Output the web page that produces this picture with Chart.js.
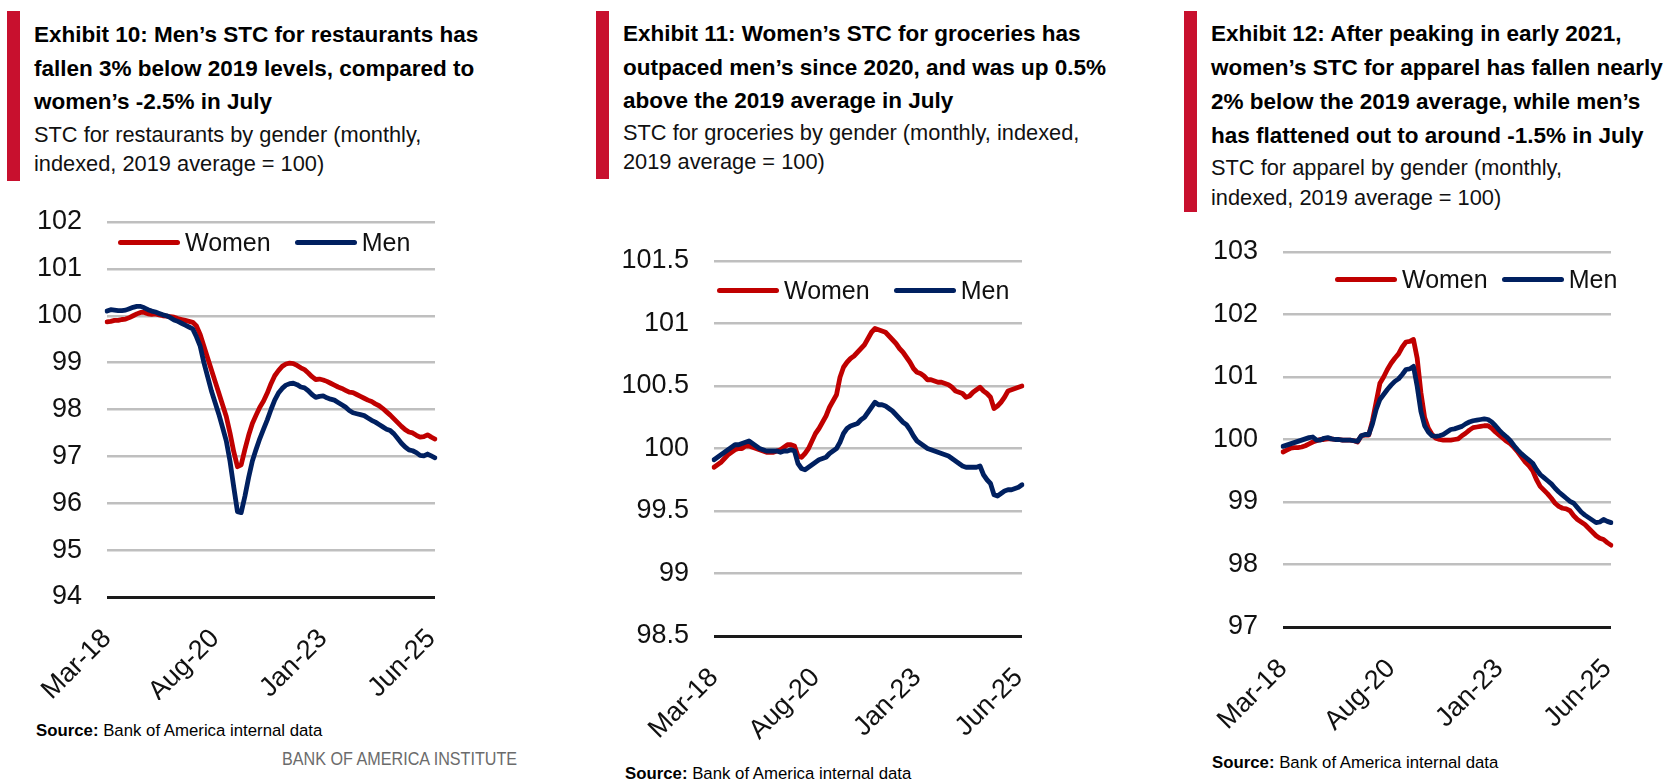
<!DOCTYPE html>
<html>
<head>
<meta charset="utf-8">
<script src="https://cdn.jsdelivr.net/npm/chart.js@4.4.1/dist/chart.umd.min.js"></script>
<style>
  html, body { margin: 0; padding: 0; background: #fff; }
  body { width: 1666px; height: 782px; position: relative; overflow: hidden;
         font-family: "Liberation Sans", sans-serif; color: #000; }
  .bar { position: absolute; width: 13px; background: #C8102E; }
  .title { position: absolute; font-weight: bold; font-size: 22.5px; line-height: 33.5px; white-space: nowrap; }
  .sub { position: absolute; font-size: 21.8px; line-height: 29px; white-space: nowrap; color: #111; }
  .box { position: absolute; }
  .legend { position: absolute; display: flex; align-items: center; font-size: 25px; white-space: nowrap; color: #111; }
  .legend .item { display: flex; align-items: center; margin-right: 24px; }
  .legend .item:last-child { margin-right: 0; }
  .legend .swatch { width: 62px; height: 5px; border-radius: 3px; margin-right: 5px; }
  .source { position: absolute; font-size: 16.8px; line-height: 22px; white-space: nowrap; }
  .brand { position: absolute; font-size: 19px; line-height: 22px; color: #6b6b6b; white-space: nowrap;
           transform: scaleX(0.85); transform-origin: left center; }
</style>
</head>
<body>

<div class="bar" style="left:7px; top:11px; height:170px;"></div>
<div class="title" style="left:34px; top:18px;">Exhibit 10: Men’s STC for restaurants has<br>fallen 3% below 2019 levels, compared to<br>women’s -2.5% in July</div>
<div class="sub" style="left:34px; top:120px;">STC for restaurants by gender (monthly,<br>indexed, 2019 average = 100)</div>

<div class="bar" style="left:596px; top:11px; height:168px;"></div>
<div class="title" style="left:623px; top:17px;">Exhibit 11: Women’s STC for groceries has<br>outpaced men’s since 2020, and was up 0.5%<br>above the 2019 average in July</div>
<div class="sub" style="left:623px; top:118px;">STC for groceries by gender (monthly, indexed,<br>2019 average = 100)</div>

<div class="bar" style="left:1184px; top:11px; height:201px;"></div>
<div class="title" style="left:1211px; top:17px; line-height:34px;">Exhibit 12: After peaking in early 2021,<br>women’s STC for apparel has fallen nearly<br>2% below the 2019 average, while men’s<br>has flattened out to around -1.5% in July</div>
<div class="sub" style="left:1211px; top:153px; line-height:30px;">STC for apparel by gender (monthly,<br>indexed, 2019 average = 100)</div>

<div class="box" id="box1"><canvas id="c1"></canvas></div>
<div class="box" id="box2"><canvas id="c2"></canvas></div>
<div class="box" id="box3"><canvas id="c3"></canvas></div>

<div class="legend" id="lg1" style="left:118px; top:228px;"></div>
<div class="legend" id="lg2" style="left:717px; top:276px;"></div>
<div class="legend" id="lg3" style="left:1335px; top:265px;"></div>

<div class="source" style="left:36px; top:720px;"><b>Source:</b> Bank of America internal data</div>
<div class="brand" style="left:282px; top:748px;">BANK OF AMERICA INSTITUTE</div>
<div class="source" style="left:625px; top:763px;"><b>Source:</b> Bank of America internal data</div>
<div class="source" style="left:1212px; top:752px;"><b>Source:</b> Bank of America internal data</div>

<script>
// months Mar-18 .. Jul-25
const months = [
  'Mar-18','Apr-18','May-18','Jun-18','Jul-18','Aug-18','Sep-18','Oct-18','Nov-18','Dec-18',
  'Jan-19','Feb-19','Mar-19','Apr-19','May-19','Jun-19','Jul-19','Aug-19','Sep-19','Oct-19','Nov-19','Dec-19',
  'Jan-20','Feb-20','Mar-20','Apr-20','May-20','Jun-20','Jul-20','Aug-20','Sep-20','Oct-20','Nov-20','Dec-20',
  'Jan-21','Feb-21','Mar-21','Apr-21','May-21','Jun-21','Jul-21','Aug-21','Sep-21','Oct-21','Nov-21','Dec-21',
  'Jan-22','Feb-22','Mar-22','Apr-22','May-22','Jun-22','Jul-22','Aug-22','Sep-22','Oct-22','Nov-22','Dec-22',
  'Jan-23','Feb-23','Mar-23','Apr-23','May-23','Jun-23','Jul-23','Aug-23','Sep-23','Oct-23','Nov-23','Dec-23',
  'Jan-24','Feb-24','Mar-24','Apr-24','May-24','Jun-24','Jul-24','Aug-24','Sep-24','Oct-24','Nov-24','Dec-24',
  'Jan-25','Feb-25','Mar-25','Apr-25','May-25','Jun-25','Jul-25'
];
const xTickLabels = ['Mar-18', 'Aug-20', 'Jan-23', 'Jun-25'];
const seriesNames = ['Women', 'Men'];

// Exhibit 10: restaurants
const restWomen = [
  99.87, 99.88, 99.90, 99.90, 99.92, 99.93, 99.96, 100.00, 100.04, 100.07,
  100.07, 100.04, 100.03, 100.04, 100.02, 100.00, 99.99, 99.98, 99.97, 99.94,
  99.92, 99.90, 99.88, 99.86, 99.78, 99.60, 99.35, 99.10, 98.85, 98.60,
  98.35, 98.10, 97.85, 97.50, 97.10, 96.78, 96.82, 97.15, 97.45, 97.70,
  97.88, 98.05, 98.18, 98.35, 98.55, 98.72, 98.83, 98.92, 98.97, 98.99,
  98.98, 98.94, 98.89, 98.85, 98.78, 98.70, 98.64, 98.65, 98.63, 98.60,
  98.56, 98.52, 98.48, 98.45, 98.41, 98.37, 98.36, 98.32, 98.28, 98.24,
  98.20, 98.17, 98.12, 98.08, 98.02, 97.95, 97.88, 97.80, 97.72, 97.64,
  97.57, 97.52, 97.50, 97.45, 97.41, 97.42, 97.46, 97.41, 97.37
];
const restMen = [
  100.10, 100.13, 100.12, 100.11, 100.11, 100.12, 100.15, 100.18, 100.20, 100.20,
  100.17, 100.13, 100.10, 100.08, 100.05, 100.02, 100.00, 99.96, 99.91, 99.88,
  99.84, 99.80, 99.76, 99.72, 99.55, 99.35, 99.00, 98.70, 98.40, 98.15,
  97.90, 97.62, 97.33, 96.90, 96.35, 95.82, 95.80, 96.15, 96.55, 96.90,
  97.15, 97.38, 97.58, 97.78, 98.00, 98.20, 98.35, 98.45, 98.52, 98.55,
  98.56, 98.53, 98.48, 98.46, 98.40, 98.32, 98.26, 98.28, 98.29, 98.25,
  98.22, 98.20, 98.15, 98.10, 98.05, 97.98, 97.93, 97.91, 97.89, 97.87,
  97.82, 97.77, 97.73, 97.68, 97.63, 97.58, 97.55, 97.48, 97.38, 97.28,
  97.20, 97.14, 97.12, 97.08, 97.02, 97.01, 97.05, 97.01, 96.97
];
const restTicks = [94, 95, 96, 97, 98, 99, 100, 101, 102];
const restTickLabels = ['94', '95', '96', '97', '98', '99', '100', '101', '102'];

// Exhibit 11: groceries
const grocWomen = [
  99.85, 99.87, 99.89, 99.92, 99.95, 99.97, 99.99, 100.00, 100.00, 100.02,
  100.02, 100.01, 100.00, 99.99, 99.98, 99.97, 99.97, 99.97, 99.98, 99.99,
  100.01, 100.03, 100.03, 100.02, 99.94, 99.93, 99.96, 100.00, 100.06, 100.12,
  100.16, 100.21, 100.26, 100.33, 100.38, 100.43, 100.57, 100.65, 100.69, 100.72,
  100.74, 100.77, 100.80, 100.83, 100.88, 100.93, 100.96, 100.95, 100.94, 100.93,
  100.90, 100.87, 100.84, 100.80, 100.77, 100.73, 100.69, 100.64, 100.61, 100.60,
  100.58, 100.55, 100.55, 100.54, 100.53, 100.53, 100.52, 100.51, 100.49, 100.46,
  100.45, 100.44, 100.41, 100.42, 100.45, 100.47, 100.49, 100.46, 100.44, 100.41,
  100.32, 100.34, 100.37, 100.41, 100.46, 100.47, 100.48, 100.49, 100.50
];
const grocMen = [
  99.91, 99.93, 99.95, 99.97, 99.99, 100.01, 100.03, 100.03, 100.04, 100.05,
  100.06, 100.04, 100.02, 100.00, 99.99, 99.98, 99.98, 99.98, 99.98, 99.97,
  99.98, 99.98, 99.99, 99.98, 99.88, 99.84, 99.83, 99.85, 99.87, 99.89,
  99.91, 99.92, 99.93, 99.96, 99.98, 100.00, 100.05, 100.12, 100.16, 100.18,
  100.19, 100.20, 100.23, 100.25, 100.29, 100.33, 100.37, 100.35, 100.35, 100.34,
  100.32, 100.30, 100.27, 100.24, 100.21, 100.19, 100.15, 100.10, 100.06, 100.04,
  100.02, 100.00, 99.99, 99.98, 99.97, 99.96, 99.95, 99.94, 99.92, 99.90,
  99.88, 99.86, 99.85, 99.85, 99.85, 99.85, 99.86, 99.79, 99.75, 99.72,
  99.63, 99.62, 99.64, 99.66, 99.67, 99.67, 99.68, 99.69, 99.71
];
const grocTicks = [98.5, 99, 99.5, 100, 100.5, 101, 101.5];
const grocTickLabels = ['98.5', '99', '99.5', '100', '100.5', '101', '101.5'];

// Exhibit 12: apparel
const appWomen = [
  99.80, 99.83, 99.86, 99.87, 99.87, 99.88, 99.90, 99.93, 99.96, 99.98,
  100.00, 100.00, 100.01, 100.01, 100.00, 100.00, 99.99, 99.99, 99.99, 99.98,
  99.96, 100.06, 100.07, 100.07, 100.30, 100.60, 100.90, 101.00, 101.12, 101.22,
  101.30, 101.37, 101.48, 101.56, 101.57, 101.60, 101.30, 100.75, 100.35, 100.18,
  100.08, 100.02, 100.00, 99.99, 99.99, 99.99, 100.00, 100.01, 100.06, 100.10,
  100.15, 100.19, 100.20, 100.21, 100.22, 100.22, 100.18, 100.12, 100.07, 100.02,
  99.97, 99.93, 99.87, 99.80, 99.72, 99.64, 99.58, 99.50, 99.36, 99.25,
  99.19, 99.13, 99.06, 98.98, 98.93, 98.90, 98.89, 98.86, 98.78, 98.72,
  98.68, 98.64, 98.58, 98.52, 98.46, 98.42, 98.40, 98.35, 98.31
];
const appMen = [
  99.89, 99.91, 99.93, 99.95, 99.97, 99.99, 100.01, 100.03, 100.04, 99.99,
  99.99, 100.02, 100.03, 100.01, 100.00, 100.00, 99.99, 99.99, 99.99, 99.98,
  99.97, 100.06, 100.08, 100.08, 100.25, 100.48, 100.64, 100.72, 100.80, 100.87,
  100.93, 100.97, 101.04, 101.12, 101.13, 101.17, 100.85, 100.45, 100.22, 100.12,
  100.06, 100.05, 100.06, 100.08, 100.12, 100.16, 100.17, 100.19, 100.21, 100.25,
  100.28, 100.30, 100.31, 100.32, 100.33, 100.32, 100.28, 100.22, 100.15, 100.09,
  100.04, 99.98, 99.90, 99.83, 99.77, 99.72, 99.67, 99.62, 99.52, 99.44,
  99.39, 99.34, 99.29, 99.22, 99.16, 99.11, 99.06, 99.01, 98.98, 98.91,
  98.84, 98.79, 98.75, 98.71, 98.67, 98.68, 98.72, 98.69, 98.67
];
const appTicks = [97, 98, 99, 100, 101, 102, 103];
const appTickLabels = ['97', '98', '99', '100', '101', '102', '103'];

const RED = '#C00000';
const BLUE = '#002060';

Chart.defaults.font.family = "'Liberation Sans Narrow', 'Liberation Sans', sans-serif";
Chart.defaults.font.size = 27;
Chart.defaults.color = '#111';

function buildLegend(chart, id, gap) {
  const el = document.getElementById(id);
  chart.data.datasets.forEach((ds, i) => {
    const item = document.createElement('div');
    item.className = 'item';
    if (gap !== undefined && i < chart.data.datasets.length - 1) item.style.marginRight = gap + 'px';
    const sw = document.createElement('span');
    sw.className = 'swatch';
    sw.style.background = ds.borderColor;
    const tx = document.createElement('span');
    tx.textContent = ds.label;
    item.appendChild(sw);
    item.appendChild(tx);
    el.appendChild(item);
  });
}

// box = canvas placement on the page, area = wanted plot rectangle (page coords)
// the padding left around area must exceed the scales' own label padding (~41px)
function makeChart(canvasId, boxId, legendId, women, men, ticks, tickLabels, box, area, legendGap) {
  const holder = document.getElementById(boxId);
  holder.style.left = box.left + 'px';
  holder.style.top = box.top + 'px';
  holder.style.width = box.width + 'px';
  holder.style.height = box.height + 'px';

  const yMin = ticks[0];
  const yMax = ticks[ticks.length - 1];

  const chart = new Chart(document.getElementById(canvasId), {
    type: 'line',
    data: {
      labels: months,
      datasets: [
        { label: seriesNames[0], data: women, borderColor: RED, backgroundColor: RED,
          borderWidth: 4.8, pointRadius: 0, tension: 0, order: 1,
          borderCapStyle: 'round', borderJoinStyle: 'round' },
        { label: seriesNames[1], data: men, borderColor: BLUE, backgroundColor: BLUE,
          borderWidth: 4.8, pointRadius: 0, tension: 0, order: 0,
          borderCapStyle: 'round', borderJoinStyle: 'round' }
      ]
    },
    options: {
      responsive: true,
      maintainAspectRatio: false,
      animation: false,
      layout: {
        padding: {
          left: 0,
          top: area.t - box.top,
          right: box.left + box.width - area.r,
          bottom: 0
        }
      },
      plugins: {
        legend: { display: false },
        tooltip: { enabled: false }
      },
      scales: {
        x: {
          offset: false,
          grid: { display: false },
          border: { display: false },
          ticks: {
            autoSkip: false,
            maxRotation: 45,
            minRotation: 45,
            padding: 18,
            color: '#111',
            callback: function(val, idx) {
              const lab = months[idx];
              return xTickLabels.includes(lab) ? lab : null;
            }
          },
          afterFit: function(s) { s.height = box.top + box.height - area.b; }
        },
        y: {
          min: yMin,
          max: yMax,
          border: { display: false },
          grid: {
            drawTicks: false,
            lineWidth: ctx => (ctx.tick && ctx.tick.value === yMin) ? 3 : 2.5,
            color: ctx => (ctx.tick && ctx.tick.value === yMin) ? '#1a1a1a' : '#BFBFBF'
          },
          afterBuildTicks: function(s) { s.ticks = ticks.map(v => ({ value: v })); },
          ticks: {
            padding: 25,
            color: '#111',
            callback: function(v) {
              const k = ticks.indexOf(v);
              return k >= 0 ? tickLabels[k] : '';
            }
          },
          afterFit: function(s) { s.width = area.l - box.left; }
        }
      }
    }
  });
  buildLegend(chart, legendId, legendGap);
  return chart;
}

makeChart('c1', 'box1', 'lg1', restWomen, restMen, restTicks, restTickLabels,
  { left: 0, top: 177, width: 480, height: 523 },
  { l: 107, t: 222, r: 435, b: 597 });

makeChart('c2', 'box2', 'lg2', grocWomen, grocMen, grocTicks, grocTickLabels,
  { left: 600, top: 216, width: 467, height: 534 },
  { l: 714, t: 261, r: 1022, b: 636 });

makeChart('c3', 'box3', 'lg3', appWomen, appMen, appTicks, appTickLabels,
  { left: 1170, top: 207, width: 486, height: 533 },
  { l: 1283, t: 252, r: 1611, b: 627 }, 14);
</script>
</body>
</html>
